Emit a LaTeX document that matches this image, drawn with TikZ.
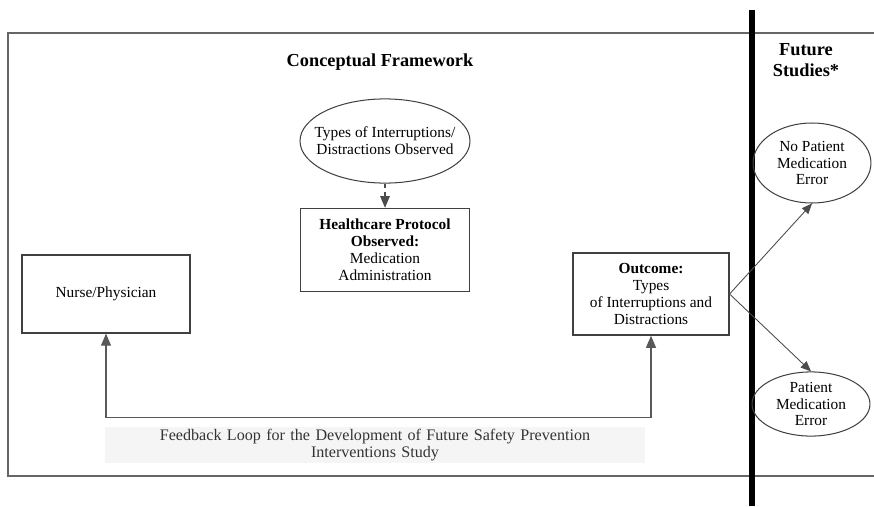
\documentclass[tikz,border=0pt]{standalone}
\usepackage{fontspec}
\setmainfont{Liberation Serif}
\usetikzlibrary{shapes.geometric, arrows, positioning}

\begin{document}
\begin{tikzpicture}[
    x=0.024cm, y=-0.024cm,
    node distance=0.6cm and 0.6cm,
    block/.style={rectangle, draw=black!75, line width=0.9pt, align=center, inner sep=2pt, font=\fontsize{10.5}{11.5}\selectfont},
    oval/.style={ellipse, draw=black!75, line width=0.7pt, inner sep=0pt},
    ovaltext/.style={align=center, font=\fontsize{10.5}{11.5}\selectfont},
    arrow/.style={->, >=triangle 45, draw=black!70, line width=0.6pt},
    dasharrow/.style={->, >=triangle 45, dashed, draw=black!70, line width=0.8pt},
    loop/.style={<->, >=triangle 45, draw=black!65, line width=0.9pt},
    heading/.style={font=\fontsize{12.5}{14}\selectfont\bfseries, align=center},
  ]
  \useasboundingbox (0,0) rectangle (874,506);

  % frame and divider
  \draw[black!60, line width=0.9pt] (874,33) -- (8,33) -- (8,476) -- (874,476);
  \draw[line width=3.5pt] (752,10) -- (752,506);

  \node[heading] (title) at (380,62) {Conceptual Framework};
  \node[heading] (future) at (806,60) {Future\\Studies*};

  \node[oval, minimum width=4.08cm, minimum height=2.02cm,
        label={[ovaltext]center:Types of Interruptions/\\Distractions Observed}] (types) at (385,141) {};
  \node[block, minimum width=4.06cm, minimum height=1.99cm, below=0.58cm of types] (protocol)
       {\textbf{Healthcare Protocol}\\\textbf{Observed:}\\Medication\\Administration};
  \node[block, minimum width=4.03cm, minimum height=1.87cm] (nurse) at (106,294) {Nurse/Physician};
  \node[block, minimum width=3.74cm, minimum height=1.97cm] (outcome) at (651,294)
       {\textbf{Outcome:}\\Types\\of Interruptions and\\Distractions};

  \draw[dasharrow] (types) -- (protocol);

  % future studies
  \node[oval, minimum width=2.83cm, minimum height=1.92cm,
        label={[ovaltext]center:No Patient\\Medication\\Error}] (no_error) at (812,163) {};
  \node[oval, minimum width=2.83cm, minimum height=1.54cm,
        label={[ovaltext]center:Patient\\Medication\\Error}] (error) at (811,404) {};
  \draw[arrow] (outcome.east) -- (no_error.south);
  \draw[arrow] (outcome.east) -- (error.north);

  % feedback loop
  \draw[loop] (nurse.south) -- ++(0,84) -| (outcome.south);
  \node[fill=black!4, text width=12.9cm, align=center, minimum height=0.82cm, inner sep=1pt,
        font=\fontsize{11}{11.8}\selectfont, text=black!80] (feedback) at (375,445)
       {Feedback Loop for the Development of Future Safety Prevention\\Interventions Study};

\end{tikzpicture}
\end{document}
